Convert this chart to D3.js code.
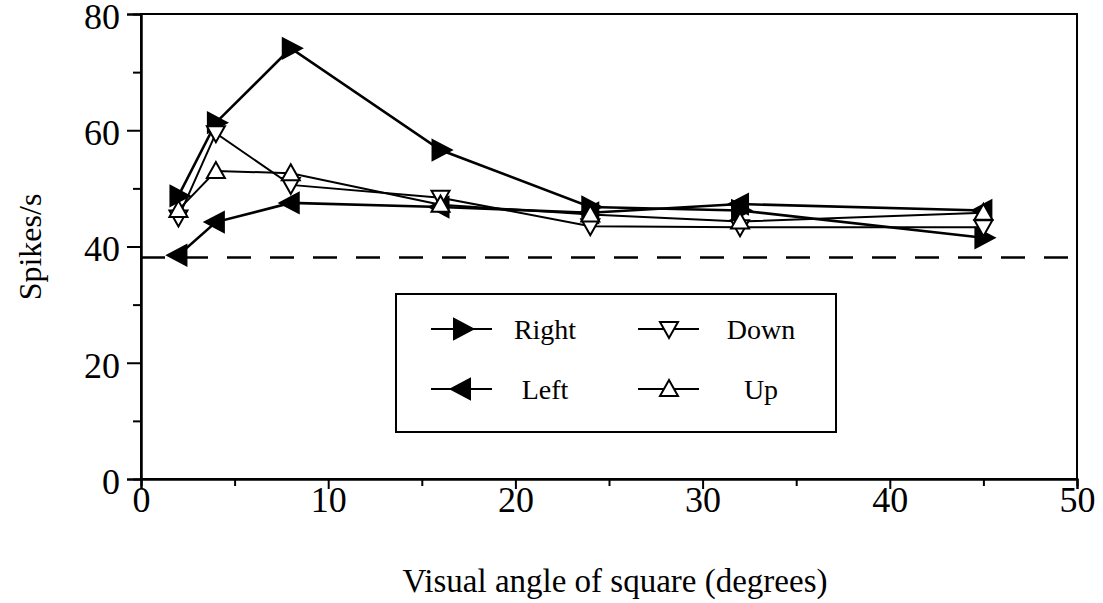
<!DOCTYPE html>
<html>
<head>
<meta charset="utf-8">
<script src="https://cdn.jsdelivr.net/npm/d3@7"></script>
<style>
  body { margin: 0; background: #fff; }
  text { font-family: "Liberation Serif", "DejaVu Serif", "Times New Roman", serif; fill: #000; }
</style>
</head>
<body>
<script>
// square size in degrees
const angles = [2, 4, 8, 16, 24, 32, 45];

// spikes/s per direction of motion
const rightVals = [48.7, 61.3, 74.1, 56.6, 46.8, 46.2, 41.5];
const leftVals  = [38.5, 44.2, 47.5, 46.8, 45.8, 47.3, 46.2];
const downVals  = [45.0, 59.5, 50.6, 48.4, 43.5, 43.3, 43.3];
const upVals    = [46.3, 53.0, 52.6, 47.2, 45.5, 44.3, 45.8];

const baseline = 38.1;

const xTicks = [0, 10, 20, 30, 40, 50];
const xMinor = [5, 15, 25, 35, 45];
const yTicks = [0, 20, 40, 60, 80];
const yMinor = [10, 30, 50, 70];

const W = 1103, H = 603;

let svg = d3.select("body").append("svg")
    .attr("width", W).attr("height", H);

let x = d3.scaleLinear().domain([0, 50]).range([141, 1077]);
let y = d3.scaleLinear().domain([0, 80]).range([479, 14]);

// marker shapes
const shapes = {
    right: "M-8,-10L11,0L-8,10Z",
    left:  "M8,-10L-11,0L8,10Z",
    down:  "M-9,-7L9,-7L0,9Z",
    up:    "M-9,7L9,7L0,-9Z"
};

const series = [
    {name: "Right", key: "right", vals: rightVals, fill: "#000", lw: 2.6},
    {name: "Left",  key: "left",  vals: leftVals,  fill: "#000", lw: 2.6},
    {name: "Down",  key: "down",  vals: downVals,  fill: "#fff", lw: 2},
    {name: "Up",    key: "up",    vals: upVals,    fill: "#fff", lw: 2}
];

//frame
svg.append("rect")
    .attr("x", x(0)).attr("y", y(80))
    .attr("width", x(50) - x(0)).attr("height", y(0) - y(80))
    .attr("fill", "none").attr("stroke", "#000").attr("stroke-width", 2);

//axes
let xAxis = svg.append("g").attr("transform", `translate(0,${y(0)})`)
    .call(d3.axisBottom(x).tickValues(xTicks).tickSize(10).tickPadding(-3).tickFormat(d3.format("d")));
let xAxisMinor = svg.append("g").attr("transform", `translate(0,${y(0)})`)
    .call(d3.axisBottom(x).tickValues(xMinor).tickSize(7).tickFormat(""));
let yAxis = svg.append("g").attr("transform", `translate(${x(0)},0)`)
    .call(d3.axisLeft(y).tickValues(yTicks).tickSize(14).tickPadding(7).tickFormat(d3.format("d")));
let yAxisMinor = svg.append("g").attr("transform", `translate(${x(0)},0)`)
    .call(d3.axisLeft(y).tickValues(yMinor).tickSize(8).tickFormat(""));

svg.selectAll(".domain").attr("stroke-width", 2);
svg.selectAll(".tick line").attr("stroke-width", 2);
svg.selectAll(".tick text").attr("font-size", 36);
yAxis.selectAll(".tick text").attr("dy", "0.4em");

//axis titles
svg.append("text")
    .attr("x", 615).attr("y", 592)
    .attr("text-anchor", "middle").attr("font-size", 33)
    .text("Visual angle of square (degrees)");

svg.append("text")
    .attr("transform", `translate(41,${247}) rotate(-90)`)
    .attr("text-anchor", "middle").attr("font-size", 32)
    .text("Spikes/s");

//dashed spontaneous rate line
svg.append("line")
    .attr("x1", x(0)).attr("x2", x(50) - 6)
    .attr("y1", y(baseline)).attr("y2", y(baseline))
    .attr("stroke", "#000").attr("stroke-width", 2.5)
    .attr("stroke-dasharray", "24,19");

let line = d3.line()
    .x(function(d){ return x(d[0]); })
    .y(function(d){ return y(d[1]); });

series.forEach(function(s) {
    let pts = angles.map(function(a, i){ return [a, s.vals[i]]; });

    svg.append("path")
        .attr("d", line(pts))
        .attr("fill", "none").attr("stroke", "#000")
        .attr("stroke-width", s.lw);
});

series.forEach(function(s) {
    let pts = angles.map(function(a, i){ return [a, s.vals[i]]; });

    svg.append("g").selectAll("path")
        .data(pts).enter().append("path")
        .attr("d", shapes[s.key])
        .attr("transform", function(d){ return `translate(${x(d[0])},${y(d[1])})`; })
        .attr("fill", s.fill).attr("stroke", "#000").attr("stroke-width", 2);
});

//legend
let legend = svg.append("g");
legend.append("rect")
    .attr("x", 396).attr("y", 294).attr("width", 440).attr("height", 138)
    .attr("fill", "#fff").attr("stroke", "#000").attr("stroke-width", 2);

const legendPos = [
    {lx: 431, ty: 329, tx: 545},
    {lx: 431, ty: 389, tx: 545},
    {lx: 638, ty: 329, tx: 761},
    {lx: 638, ty: 389, tx: 761}
];

series.forEach(function(s, i) {
    let p = legendPos[i];
    legend.append("line")
        .attr("x1", p.lx).attr("x2", p.lx + 61)
        .attr("y1", p.ty).attr("y2", p.ty)
        .attr("stroke", "#000").attr("stroke-width", 2);
    legend.append("path")
        .attr("d", shapes[s.key])
        .attr("transform", `translate(${p.lx + 31},${p.ty})`)
        .attr("fill", s.fill).attr("stroke", "#000").attr("stroke-width", 2);
    legend.append("text")
        .attr("x", p.tx).attr("y", p.ty + 10)
        .attr("text-anchor", "middle").attr("font-size", 28)
        .text(s.name);
});
</script>
</body>
</html>
